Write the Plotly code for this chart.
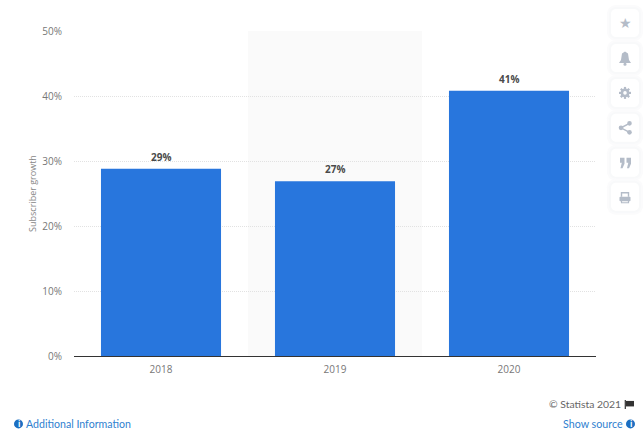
import plotly.graph_objects as go

years = ["2018", "2019", "2020"]
growth = [28.8, 26.9, 40.8]
y_ticks = [0, 10, 20, 30, 40, 50]
y_tick_labels = ["0%", "10%", "20%", "30%", "40%", "50%"]

W, H = 644, 434
L, R, T, B = 74, 596, 31, 356.5
FONT = "Open Sans"
FOOT = "Lato"


def px(x):
    return (x - L) / (R - L)


def py(y):
    return (B - y) / (B - T)


def pt(p):
    return f"{px(p[0]):.5f},{py(p[1]):.5f}"


def poly(points, close=True):
    d = "M" + pt(points[0]) + "".join(" L" + pt(p) for p in points[1:])
    return d + (" Z" if close else "")


def round_rect(x0, y0, x1, y1, r):
    k = r * 0.45
    def c(a, b, e):
        return " C" + pt(a) + " " + pt(b) + " " + pt(e)
    return ("M" + pt((x0 + r, y0)) + " L" + pt((x1 - r, y0)) +
            c((x1 - k, y0), (x1, y0 + k), (x1, y0 + r)) +
            " L" + pt((x1, y1 - r)) +
            c((x1, y1 - k), (x1 - k, y1), (x1 - r, y1)) +
            " L" + pt((x0 + r, y1)) +
            c((x0 + k, y1), (x0, y1 - k), (x0, y1 - r)) +
            " L" + pt((x0, y0 + r)) +
            c((x0, y0 + k), (x0 + k, y0), (x0 + r, y0)) + " Z")


fig = go.Figure(go.Bar(
    x=years, y=growth, width=0.69, marker=dict(color="#2876dd", line=dict(width=0)),
    hoverinfo="skip",
))

shapes = [
    dict(type="rect", xref="x", yref="paper", x0=0.5, x1=1.5, y0=0, y1=1,
         fillcolor="#fafafa", line=dict(width=0), layer="below"),
]
annotations = [
    dict(xref="x", yref="y", x=i, y=v, text=f"<b>{v:.0f}%</b>", showarrow=False,
         xanchor="center", yanchor="bottom", yshift=3,
         font=dict(family=FONT, size=10, color="#4a4a4a"))
    for i, v in enumerate(growth)
]


def pshape(d, fill, line=None):
    shapes.append(dict(type="path", xref="paper", yref="paper", path=d, fillcolor=fill,
                       line=line or dict(width=0), layer="above"))


def circle(cx, cy, r, fill):
    shapes.append(dict(type="circle", xref="paper", yref="paper",
                       x0=px(cx - r), x1=px(cx + r), y0=py(cy + r), y1=py(cy - r),
                       fillcolor=fill, line=dict(width=0), layer="above"))


def label(x, y, text, size, color, anchor="left", family=FONT):
    annotations.append(dict(xref="paper", yref="paper", x=px(x), y=py(y), text=text, showarrow=False,
                            xanchor=anchor, yanchor="middle",
                            font=dict(family=family, size=size, color=color)))


# toolbar buttons
for c in [23, 58, 93, 128, 163, 197]:
    for grow, col in ((4, "#fbfbfc"), (2, "#f8f9fa")):
        pshape(round_rect(611 - grow, c - 14 - grow, 639 + grow, c + 14 + grow, 5 + grow), col)
    pshape(round_rect(611, c - 14, 639, c + 14, 5), "#ffffff")

ICON = "#b4bcc8"
NONE = "rgba(0,0,0,0)"
STROKE = dict(color=ICON, width=1.5)
label(625, 22.5, "★", 14, ICON, "center", "DejaVu Sans")
# bell
pshape(poly([(625, 51.5), (628, 53.5), (629, 60), (631, 63), (619, 63), (621, 60), (622, 53.5)]), ICON)
circle(625, 64.3, 1.6, ICON)
# gear
for a, b in (((625, 87), (625, 99)), ((619, 93), (631, 93)),
             ((620.8, 88.8), (629.2, 97.2)), ((620.8, 97.2), (629.2, 88.8))):
    pshape(poly([a, b], False), NONE, dict(color=ICON, width=2.2))
circle(625, 93, 4.4, ICON)
circle(625, 93, 1.8, "#ffffff")
# share
circle(629.5, 123.5, 2.3, ICON)
circle(629.5, 132.5, 2.3, ICON)
circle(621, 128, 2.3, ICON)
pshape(poly([(629.5, 123.5), (621, 128), (629.5, 132.5)], False), NONE, STROKE)
# quotes
for ox in (620, 626.5):
    pshape(poly([(ox, 158), (ox + 4.5, 158), (ox + 4.5, 164), (ox + 2.5, 168.5),
                 (ox + 0.5, 168.5), (ox + 1.8, 163), (ox, 163)]), ICON)
# printer
pshape(poly([(621.5, 197), (621.5, 193), (628.5, 193), (628.5, 197)], False), NONE, dict(color=ICON, width=1.4))
pshape(round_rect(619.5, 197, 630.5, 201.5, 1), ICON)
pshape(poly([(621.5, 200.5), (628.5, 200.5), (628.5, 203), (621.5, 203)]), NONE, dict(color=ICON, width=1.2))

# footer
label(547, 405, "© Statista 2021", 10.4, "#666666", family=FOOT)
pshape(poly([(625.3, 400.5), (625.3, 409.5)], False), NONE, dict(color="#333333", width=1.2))
pshape(poly([(626, 401.5), (634, 401.5), (634, 407), (626, 407)]), "#333333")

INFO = "#1b6fc2"
LINK = "#2f7fcf"
circle(18.5, 424.5, 4.5, INFO)
label(18.5, 424.5, "<b>i</b>", 8, "#ffffff", "center")
label(23.5, 424.5, "Additional Information", 10.6, LINK, family=FOOT)
label(561, 424.5, "Show source", 10.7, LINK, family=FOOT)
circle(630.5, 424.5, 4.5, INFO)
label(630.5, 424.5, "<b>i</b>", 8, "#ffffff", "center")

fig.update_layout(
    width=W, height=H, paper_bgcolor="white", plot_bgcolor="white",
    margin=dict(l=L, r=W - R, t=T, b=H - B, pad=0, autoexpand=False),
    showlegend=False, bargap=0.31, shapes=shapes, annotations=annotations,
    font=dict(family=FONT),
    xaxis=dict(type="category", range=[-0.5, 2.5], showgrid=False, ticks="", showline=True,
               linecolor="#333333", linewidth=1, ticklabelstandoff=4,
               tickfont=dict(family=FONT, size=10, color="#777777")),
    yaxis=dict(range=[0, 50], tickvals=y_ticks, ticktext=y_tick_labels, showline=False, zeroline=False,
               gridcolor="#e2e2e2", griddash="1px,1px", gridwidth=1, ticks="", ticklen=0,
               ticklabelstandoff=11,
               tickfont=dict(family=FONT, size=10, color="#777777"),
               title=dict(text="Subscriber growth", standoff=4,
                          font=dict(family=FONT, size=9, color="#888888"))),
)

fig.write_html("out.html", config=dict(displayModeBar=False),
               post_script="document.body.style.margin='0';")
